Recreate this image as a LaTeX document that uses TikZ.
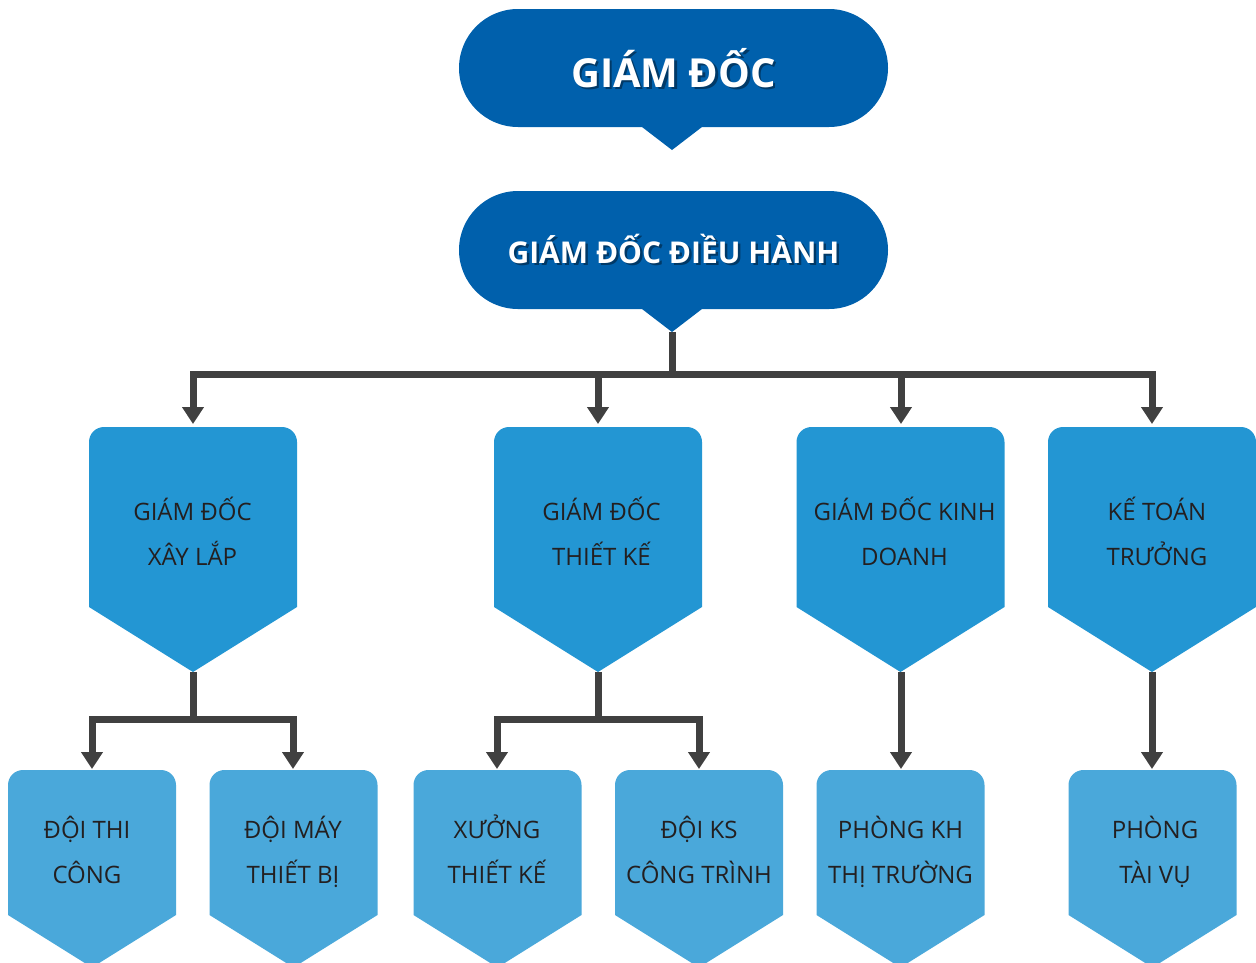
\documentclass[tikz,border=0pt]{standalone}
\usepackage{fontspec}
\setmainfont{Open Sans}
\usetikzlibrary{arrows.meta}
\definecolor{topblue}{RGB}{0,96,172}
\definecolor{midblue}{RGB}{35,150,211}
\definecolor{lowblue}{RGB}{74,168,218}
\definecolor{linegray}{RGB}{64,64,64}
\definecolor{txtdark}{RGB}{35,31,32}
% #1 centre x, #2 half width, #3 top, #4 shoulder, #5 tip, #6 colour
\newcommand\pentshape[6]{%
  \fill[#6] (#1-#2,#4) -- (#1-#2,#3+15) .. controls (#1-#2,#3+6.7) and (#1-#2+6.7,#3) .. (#1-#2+15,#3)
    -- (#1+#2-15,#3) .. controls (#1+#2-6.7,#3) and (#1+#2,#3+6.7) .. (#1+#2,#3+15)
    -- (#1+#2,#4) -- (#1,#5) -- cycle;
}
\newcommand\stadshape[1]{%
  \fill[topblue] (518,#1) -- (829,#1) .. controls (861.6,#1) and (888,#1+26.4) .. (888,#1+59)
    .. controls (888,#1+91.6) and (861.6,#1+118) .. (829,#1+118)
    -- (702,#1+118) -- (672,#1+141) -- (642,#1+118) -- (518,#1+118)
    .. controls (485.4,#1+118) and (459,#1+91.6) .. (459,#1+59)
    .. controls (459,#1+26.4) and (485.4,#1) .. (518,#1) -- cycle;
}
\tikzset{
  conn/.style={draw=linegray, line width=7pt},
  arrowc/.style={conn, -{Triangle[width=21pt,length=17pt]}},
  boxtext/.style={inner sep=0pt, align=center, text=txtdark, font=\fontsize{24}{45}\selectfont},
  titletext/.style={inner sep=0pt, anchor=base, text=white, font=\bfseries\fontsize{#1}{#1}\selectfont},
  titleshadow/.style={inner sep=0pt, anchor=base, text=black, opacity=0.4, font=\bfseries\fontsize{#1}{#1}\selectfont}
}
\begin{document}
\begin{tikzpicture}[x=1pt, y=-1pt]
\useasboundingbox (0,0) rectangle (1256,962);
\clip (0,0) rectangle (1256,962);
% ---------- connectors ----------
\coordinate (gddh-tip) at (672,332);
\coordinate (bus) at (672,374);
\coordinate (xl-in) at (193,424);
\coordinate (tk-in) at (598,424);
\coordinate (kd-in) at (901,424);
\coordinate (kt-in) at (1152,424);
\draw[conn] (gddh-tip) -- (bus);
\draw[arrowc] (bus) -| (xl-in);
\draw[arrowc] (bus) -| (tk-in);
\draw[arrowc] (bus) -| (kd-in);
\draw[arrowc] (bus) -| (kt-in);
\coordinate (xl-tip) at (193,672);
\coordinate (xl-bus) at (193,719);
\coordinate (tc-in) at (92,769);
\coordinate (mtb-in) at (293,769);
\draw[conn] (xl-tip) -- (xl-bus);
\draw[arrowc] (xl-bus) -| (tc-in);
\draw[arrowc] (xl-bus) -| (mtb-in);
\coordinate (tk-tip) at (598,672);
\coordinate (tk-bus) at (598,719);
\coordinate (xtk-in) at (497,769);
\coordinate (ks-in) at (699,769);
\draw[conn] (tk-tip) -- (tk-bus);
\draw[arrowc] (tk-bus) -| (xtk-in);
\draw[arrowc] (tk-bus) -| (ks-in);
\coordinate (kd-tip) at (901,672);
\coordinate (kh-in) at (901,769);
\draw[arrowc] (kd-tip) -- (kh-in);
\coordinate (kt-tip) at (1152,672);
\coordinate (tv-in) at (1152,769);
\draw[arrowc] (kt-tip) -- (tv-in);
% ---------- shapes ----------
\stadshape{9}
\stadshape{191}
\pentshape{193}{104}{427}{607}{672}{midblue}
\pentshape{598}{104}{427}{607}{672}{midblue}
\pentshape{900.5}{104}{427}{607}{672}{midblue}
\pentshape{1152}{104}{427}{607}{672}{midblue}
\pentshape{92}{84}{770}{915}{967.5}{lowblue}
\pentshape{293.5}{84}{770}{915}{967.5}{lowblue}
\pentshape{497.5}{84}{770}{915}{967.5}{lowblue}
\pentshape{699}{84}{770}{915}{967.5}{lowblue}
\pentshape{900.5}{84}{770}{915}{967.5}{lowblue}
\pentshape{1152.5}{84}{770}{915}{967.5}{lowblue}
% ---------- texts ----------
\node[titleshadow=40] (gd-sh) at (676,89.5) {GIÁM ĐỐC};
\node[titletext=40] (gd) at (673.5,87) {GIÁM ĐỐC};
\node[titleshadow=30] (gddh-sh) at (676,265.5) {GIÁM ĐỐC ĐIỀU HÀNH};
\node[titletext=30] (gddh) at (673.5,263) {GIÁM ĐỐC ĐIỀU HÀNH};
\node[boxtext] (xl) at (192.5,533.5) {\strut GIÁM ĐỐC\\\strut XÂY LẮP};
\node[boxtext] (tk) at (601.5,533.5) {\strut GIÁM ĐỐC\\\strut THIẾT KẾ};
\node[boxtext] (kd) at (904.5,533.5) {\strut GIÁM ĐỐC KINH\\\strut DOANH};
\node[boxtext] (kt) at (1157,533.5) {\strut KẾ TOÁN\\\strut TRƯỞNG};
\node[boxtext] (tc) at (87,851.5) {\strut ĐỘI THI\\\strut CÔNG};
\node[boxtext] (mtb) at (293,851.5) {\strut ĐỘI MÁY\\\strut THIẾT BỊ};
\node[boxtext] (xtk) at (497,851.5) {\strut XƯỞNG\\\strut THIẾT KẾ};
\node[boxtext] (ks) at (699,851.5) {\strut ĐỘI KS\\\strut CÔNG TRÌNH};
\node[boxtext] (kh) at (900.5,851.5) {\strut PHÒNG KH\\\strut THỊ TRƯỜNG};
\node[boxtext] (tv) at (1155,851.5) {\strut PHÒNG\\\strut TÀI VỤ};
\end{tikzpicture}
\end{document}
